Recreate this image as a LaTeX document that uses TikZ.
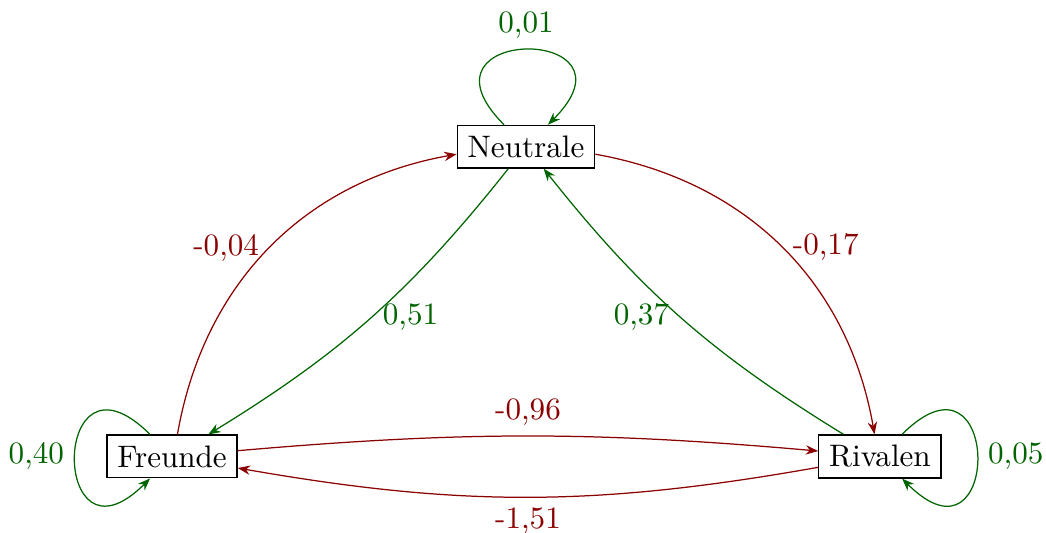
\documentclass[tikz,border=0pt]{standalone}
\usepackage{xcolor}
\usepackage{tikz}
\usetikzlibrary{arrows.meta,positioning}

\definecolor{posgreen}{RGB}{0,100,0}
\definecolor{negred}{RGB}{139,0,0}

\begin{document}
\begin{tikzpicture}[
    state/.style={draw, rectangle},
    poseff/.style={draw=posgreen, text=posgreen, -{Stealth[length=4pt]}},
    negeff/.style={draw=negred, text=negred, -{Stealth[length=4pt]}}]
    \useasboundingbox (-1.944,-0.864) rectangle (9.876,5.158);
    \node[state] (fr) at (0,0) {Freunde};
    \node[state] (ri) at (8,0) {Rivalen};
    \node[state] (ne) at (4,3.5) {Neutrale};
    % self loops
    \draw[poseff] (ne) to[out=135, in=45, distance=1.6cm] node[above] {0,01} (ne);
    \draw[poseff] (fr) to[out=135, in=225, distance=1.6cm] node[left] {0,40} (fr);
    \draw[poseff] (ri) to[out=45, in=-45, distance=1.6cm] node[right] {0,05} (ri);
    % outer arcs
    \draw[negeff] (fr) to[bend left=35] node[left] {-0,04} (ne);
    \draw[negeff] (ne) to[bend left=35] node[right] {-0,17} (ri);
    % inner arcs
    \draw[poseff] (ne) to[bend left=10] node[right] {0,51} (fr);
    \draw[poseff] (ri) to[bend left=10] node[left] {0,37} (ne);
    \draw[negeff] (fr) to[bend left=5] node[above] {-0,96} (ri);
    \draw[negeff] (ri) to[bend left=10] node[below] {-1,51} (fr);
\end{tikzpicture}
\end{document}
